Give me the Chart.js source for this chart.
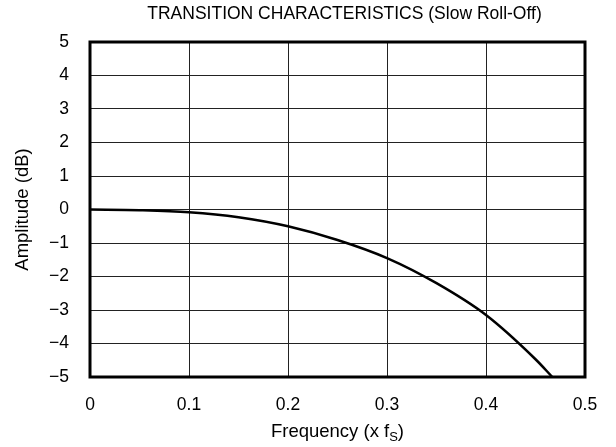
<!DOCTYPE html>
<html>
<head>
<meta charset="utf-8">
<script src="https://cdn.jsdelivr.net/npm/chart.js@4.4.1/dist/chart.umd.min.js"></script>
<style>
  html, body { margin: 0; padding: 0; background: #fff; }
  #wrap { width: 616px; height: 447px; }
</style>
</head>
<body>
<div id="wrap"><canvas id="chart" width="616" height="447"></canvas></div>
<script>
// frequency (x fS) and amplitude (dB)
const freq = [0, 0.05, 0.1, 0.15, 0.2, 0.25, 0.3, 0.35, 0.4, 0.45, 0.467];
const amplitude = [0, -0.02, -0.08, -0.23, -0.5, -0.91, -1.45, -2.2, -3.15, -4.47, -5];
const xTicks = [0, 0.1, 0.2, 0.3, 0.4, 0.5];
const yTicks = [5, 4, 3, 2, 1, 0, -1, -2, -3, -4, -5];

const chartTitle = 'TRANSITION CHARACTERISTICS (Slow Roll-Off)';
const yTitle = 'Amplitude (dB)';
const FONT = '"Liberation Sans", Arial, sans-serif';
const SIZE = 17.5;

// title, axis titles and the heavy frame are drawn here
const decorations = {
  id: 'decorations',
  afterDraw(chart) {
    const ctx = chart.ctx;
    const a = chart.chartArea;
    ctx.save();
    ctx.strokeStyle = '#000';
    ctx.lineWidth = 3;
    ctx.strokeRect(a.left, a.top, a.right - a.left, a.bottom - a.top);

    ctx.fillStyle = '#000';
    ctx.font = SIZE + 'px ' + FONT;
    ctx.textAlign = 'center';
    ctx.textBaseline = 'middle';
    ctx.fillText(chartTitle, (a.left + a.right) / 2 + 7, 14);

    // x title with subscript S
    const base = 'Frequency (x f';
    const big = '18.5px ' + FONT;
    const small = '13px ' + FONT;
    ctx.font = big;
    const w1 = ctx.measureText(base).width;
    const w3 = ctx.measureText(')').width;
    ctx.font = small;
    const w2 = ctx.measureText('S').width;
    let x = (a.left + a.right) / 2 - (w1 + w2 + w3) / 2;
    const y = 432;
    ctx.textAlign = 'left';
    ctx.font = big;
    ctx.fillText(base, x, y);
    x += w1;
    ctx.font = small;
    ctx.fillText('S', x, y + 5);
    x += w2;
    ctx.font = big;
    ctx.fillText(')', x, y);

    // y title
    ctx.translate(23, (a.top + a.bottom) / 2);
    ctx.rotate(-Math.PI / 2);
    ctx.textAlign = 'center';
    ctx.fillText(yTitle, 0, 0);
    ctx.restore();
  }
};

new Chart(document.getElementById('chart'), {
  type: 'scatter',
  data: {
    datasets: [{
      data: freq.map((f, i) => ({ x: f, y: amplitude[i] })),
      showLine: true,
      borderColor: '#000',
      borderWidth: 2.5,
      pointRadius: 0,
      cubicInterpolationMode: 'monotone',
      fill: false
    }]
  },
  options: {
    responsive: false,
    animation: false,
    layout: { padding: { top: 42, right: 31, left: 0, bottom: 0 } },
    plugins: { legend: { display: false }, tooltip: { enabled: false } },
    scales: {
      x: {
        type: 'linear',
        min: 0, max: 0.5,
        afterBuildTicks: s => { s.ticks = xTicks.map(v => ({ value: v })); },
        afterFit: s => { s.height = 70; },
        grid: { color: '#222', lineWidth: 1, drawTicks: false },
        border: { display: false },
        ticks: {
          color: '#000', padding: 18,
          font: { family: FONT, size: SIZE },
          callback: v => String(v)
        }
      },
      y: {
        type: 'linear',
        min: -5, max: 5,
        afterBuildTicks: s => { s.ticks = yTicks.map(v => ({ value: v })); },
        afterFit: s => { s.width = 90; },
        grid: { color: '#222', lineWidth: 1, drawTicks: false },
        border: { display: false },
        ticks: {
          color: '#000', padding: 21,
          font: { family: FONT, size: SIZE },
          callback: v => String(v).replace('-', '\u2212')
        }
      }
    }
  },
  plugins: [decorations]
});
</script>
</body>
</html>
